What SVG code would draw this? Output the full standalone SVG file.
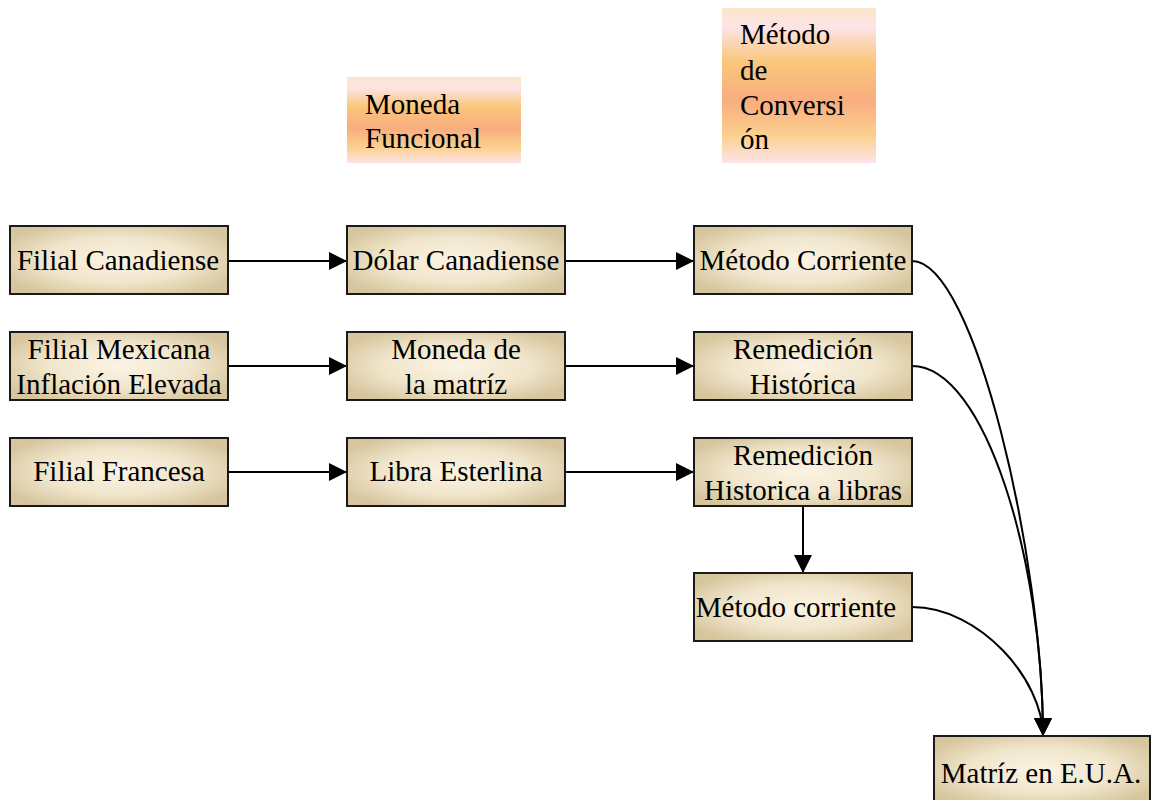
<svg xmlns="http://www.w3.org/2000/svg" width="1152" height="800" viewBox="0 0 1152 800">
<defs>
<radialGradient id="boxg" cx="50%" cy="50%" r="60%">
<stop offset="0" stop-color="#fbf3e3"/>
<stop offset="0.55" stop-color="#f1e6cc"/>
<stop offset="1" stop-color="#d6c59d"/>
</radialGradient>
<linearGradient id="hdrg" x1="0" y1="0" x2="0" y2="1">
<stop offset="0" stop-color="#fbe6c8"/>
<stop offset="0.12" stop-color="#fde4e8"/>
<stop offset="0.35" stop-color="#f9c67a"/>
<stop offset="0.6" stop-color="#f8ad80"/>
<stop offset="0.82" stop-color="#fbd08e"/>
<stop offset="1" stop-color="#fde3e8"/>
</linearGradient>
<marker id="arr" markerWidth="20" markerHeight="18" refX="18" refY="9" orient="auto" markerUnits="userSpaceOnUse">
<path d="M0,0 L18,9 L0,18 Z" fill="#000"/>
</marker>
</defs>
<style>
.box{fill:url(#boxg);stroke:#1a1a1a;stroke-width:2}
.hdr{fill:url(#hdrg)}
.c{text-anchor:middle}
.ln{fill:none;stroke:#000;stroke-width:2;marker-end:url(#arr)}
</style>
<rect width="1152" height="800" fill="#fff"/>
<g font-family="Liberation Serif, Times New Roman, serif" font-size="29" fill="#000">
<g id="hdr-moneda">
<rect class="hdr" x="347" y="77" width="174" height="86"/>
<text x="365" y="114">Moneda</text>
<text x="365" y="148">Funcional</text>
</g>
<g id="hdr-metodo">
<rect class="hdr" x="722" y="8" width="154" height="155"/>
<text x="740" y="44">Método</text>
<text x="740" y="80">de</text>
<text x="740" y="115">Conversi</text>
<text x="740" y="149">ón</text>
</g>
<g id="connectors">
<path class="ln" d="M228,261 L347,261"/>
<path class="ln" d="M565,261 L694,261"/>
<path class="ln" d="M228,366 L347,366"/>
<path class="ln" d="M565,366 L694,366"/>
<path class="ln" d="M228,472 L347,472"/>
<path class="ln" d="M565,472 L694,472"/>
<path class="ln" d="M803,506 L803,573"/>
<path class="ln" d="M912,261 C975,261 1043,560 1043,736"/>
<path class="ln" d="M912,366 C985,366 1043,560 1043,736"/>
<path class="ln" d="M912,607 C980,607 1043,680 1043,736"/>
</g>
<g id="n-filial-can"><rect class="box" x="10" y="226" width="218" height="68"/><text class="c" x="118" y="270">Filial Canadiense</text></g>
<g id="n-dolar"><rect class="box" x="347" y="226" width="218" height="68"/><text class="c" x="456" y="270">Dólar Canadiense</text></g>
<g id="n-met-corr"><rect class="box" x="694" y="226" width="218" height="68"/><text class="c" x="803" y="270">Método Corriente</text></g>
<g id="n-filial-mex"><rect class="box" x="10" y="332" width="218" height="68"/><text class="c" x="119" y="359">Filial Mexicana</text><text class="c" x="119" y="394">Inflación Elevada</text></g>
<g id="n-moneda-matriz"><rect class="box" x="347" y="332" width="218" height="68"/><text class="c" x="456" y="359">Moneda de</text><text class="c" x="456" y="394">la matríz</text></g>
<g id="n-remed-hist"><rect class="box" x="694" y="332" width="218" height="68"/><text class="c" x="803" y="359">Remedición</text><text class="c" x="803" y="394">Histórica</text></g>
<g id="n-filial-fr"><rect class="box" x="10" y="438" width="218" height="68"/><text class="c" x="119" y="481">Filial Francesa</text></g>
<g id="n-libra"><rect class="box" x="347" y="438" width="218" height="68"/><text class="c" x="456" y="481">Libra Esterlina</text></g>
<g id="n-remed-libras"><rect class="box" x="694" y="438" width="218" height="68"/><text class="c" x="803" y="465">Remedición</text><text class="c" x="803" y="500">Historica a libras</text></g>
<g id="n-met-corr2"><rect class="box" x="694" y="573" width="218" height="68"/><text class="c" x="796" y="617">Método corriente</text></g>
<g id="n-matriz"><rect class="box" x="934" y="736" width="216" height="68"/><text class="c" x="1041" y="783">Matríz en E.U.A.</text></g>
</g>
</svg>
